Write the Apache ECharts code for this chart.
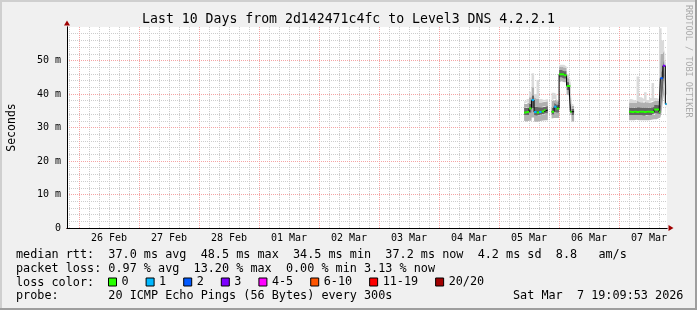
<!DOCTYPE html>
<html><head><meta charset="utf-8">
<script src="https://cdn.jsdelivr.net/npm/echarts@6/dist/echarts.min.js"></script>
<style>html,body{margin:0;padding:0;background:#f0f0f0}#c{width:697px;height:310px}</style>
</head><body><div id="c"></div>
<script>
// ---------- data ----------
const YEAR = 2026;
const rangeStart = '02-25 19:10';
const rangeEnd = '03-07 19:10';
const dayTicks = ['02-26','02-27','02-28','03-01','03-02','03-03','03-04','03-05','03-06','03-07'];
const xTickLabels = ['26 Feb','27 Feb','28 Feb','01 Mar','02 Mar','03 Mar','04 Mar','05 Mar','06 Mar','07 Mar'];
const yTickLabels = ['0','10 m','20 m','30 m','40 m','50 m'];
const lossLabels = ['0','1','2','3','4-5','6-10','11-19','20/20'];
const lossColors = ['#26ff00','#00b8ff','#0059ff','#7e00ff','#ff00ff','#ff5500','#ff0000','#a10000'];

const times = [
  '03-05 10:00','03-05 11:00','03-05 12:00','03-05 13:00','03-05 14:00','03-05 15:00','03-05 16:00','03-05 17:00','03-05 18:00','03-05 18:30',
  '03-05 19:30',
  '03-05 21:00','03-05 22:00','03-05 23:00','03-06 00:00','03-06 01:00','03-06 02:00','03-06 03:00','03-06 04:00','03-06 04:30','03-06 05:00',
  '03-06 06:00',
  '03-07 04:00','03-07 05:00','03-07 06:00','03-07 07:00','03-07 08:00','03-07 09:00','03-07 10:00','03-07 11:00','03-07 12:00','03-07 13:00','03-07 14:00','03-07 15:00','03-07 16:00',
  '03-07 16:30','03-07 17:00','03-07 17:30','03-07 18:00','03-07 18:30','03-07 19:00'
];
const median = [
  34.5, 34.6, 35.7, 38.2, 34.6, 34.5, 34.6, 34.8, 35.2, 35.2,
  null,
  34.7, 36.2, 35.7, 45.9, 45.9, 45.6, 42.4, 42.4, 34.7, 34.7,
  null,
  34.7, 34.6, 34.7, 34.6, 34.7, 34.7, 34.6, 34.7, 34.7, 34.6, 35.4, 35.4, 34.7,
  44.7, 44.7, 48.4, 48.4, 37.0, 37.0
];
const lossLevel = [
  0, 0, 0, 1, 1, 0, 1, 0, 0, 0,
  null,
  0, 1, 0, 0, 0, 0, 0, 0, 0, 0,
  null,
  0, 0, 0, 0, 0, 0, 0, 0, 0, 0, 0, 0, 0,
  2, 2, 3, 3, 1, 1
];
const smokeMin = [
  32.0, 31.8, 32.0, 33.0, 31.8, 31.7, 31.8, 32.0, 32.2, 32.2,
  null,
  32.7, 32.8, 32.8, 43.5, 43.8, 43.5, 39.8, 39.5, 31.8, 31.8,
  null,
  32.2, 32.2, 32.2, 32.3, 32.2, 32.2, 32.2, 32.2, 32.2, 32.3, 32.5, 32.5, 33.0,
  34.5, 38.0, 40.0, 36.0, 32.5, 32.5
];
const smokeLow = [
  33.7, 33.7, 34.4, 35.8, 33.7, 33.6, 33.7, 33.9, 34.2, 34.2,
  null,
  33.9, 34.8, 34.5, 44.9, 44.9, 44.6, 41.2, 41.2, 33.7, 33.7,
  null,
  33.7, 33.7, 33.7, 33.7, 33.7, 33.7, 33.6, 33.7, 33.7, 33.7, 34.2, 34.2, 34.0,
  38.5, 41.5, 45.5, 41.0, 35.3, 35.3
];
const smokeHigh = [
  35.8, 36.0, 37.2, 39.6, 36.2, 36.2, 36.0, 36.1, 36.4, 36.4,
  null,
  35.9, 37.3, 36.8, 47.2, 47.2, 46.8, 43.6, 43.4, 35.6, 35.6,
  null,
  36.0, 35.9, 36.0, 36.1, 36.0, 36.0, 36.0, 35.9, 36.0, 36.1, 36.7, 36.7, 36.6,
  46.5, 47.5, 50.5, 49.5, 39.5, 39.5
];
const smokeUpper = [
  37.0, 37.5, 39.0, 42.0, 39.0, 38.5, 37.5, 37.6, 37.8, 37.8,
  null,
  38.0, 38.5, 37.8, 48.2, 48.2, 47.8, 44.8, 44.5, 36.5, 36.5,
  null,
  37.5, 37.3, 37.3, 38.0, 37.6, 37.4, 37.8, 37.4, 37.5, 37.8, 38.0, 38.0, 40.0,
  52.0, 52.0, 53.5, 52.0, 41.0, 41.0
];
const smokeMax = [
  37.8, 38.5, 40.7, 46.2, 40.0, 44.2, 38.5, 38.2, 38.5, 38.5,
  null,
  40.4, 40.0, 38.0, 48.7, 48.7, 48.2, 45.8, 45.5, 37.0, 37.0,
  null,
  38.5, 38.2, 38.0, 45.2, 39.0, 38.5, 40.5, 38.2, 38.8, 43.3, 38.8, 38.5, 59.6,
  59.6, 56.0, 56.0, 54.0, 42.0, 42.0
];

const titleText = 'Last 10 Days from 2d142471c4fc to Level3 DNS 4.2.2.1';
const legendLines = [
  'median rtt:  37.0 ms avg  48.5 ms max  34.5 ms min  37.2 ms now  4.2 ms sd  8.8   am/s',
  'packet loss: 0.97 % avg  13.20 % max  0.00 % min 3.13 % now',
  'loss color:',
  'probe:       20 ICMP Echo Pings (56 Bytes) every 300s'
];
const stampText = 'Sat Mar  7 19:09:53 2026';
const watermark = 'RRDTOOL / TOBI OETIKER';

// ---------- helpers ----------
function toTime(s) {
  const [md, hm] = s.split(' ');
  const [mo, d] = md.split('-').map(Number);
  const [h, m] = (hm || '00:00').split(':').map(Number);
  return new Date(YEAR, mo - 1, d, h, m).getTime();
}
const T = times.map(toTime);
const tMin = toTime(rangeStart), tMax = toTime(rangeEnd);
const HOUR = 3600 * 1000, DAY = 24 * HOUR;
const dayLabelMap = {};
dayTicks.forEach((d, i) => { dayLabelMap[toTime(d + ' 00:00')] = xTickLabels[i]; });
function noonLabel(v) {
  const d = new Date(v);
  if (d.getHours() !== 12 || d.getMinutes() !== 0) return '';
  const mid = new Date(d.getFullYear(), d.getMonth(), d.getDate()).getTime();
  return dayLabelMap[mid] || '';
}
const diff = (a, b) => a.map((v, i) => (v == null || b[i] == null) ? null : +(v - b[i]).toFixed(3));
const pairs = arr => arr.map((v, i) => [T[i], v]);

const MONO = 'DejaVu Sans Mono';
const smokeBands = [
  { data: smokeMin, color: null },
  { data: diff(smokeLow, smokeMin), color: '#b2b2b2' },
  { data: diff(smokeHigh, smokeLow), color: '#666666' },
  { data: diff(smokeUpper, smokeHigh), color: '#b0b0b0' },
  { data: diff(smokeMax, smokeUpper), color: '#dadada' }
];

const series = [];
smokeBands.forEach((b, i) => {
  series.push({
    name: 'smoke' + i, type: 'line', stack: 'smoke', step: 'end',
    data: pairs(b.data), showSymbol: false, silent: true, z: 5,
    lineStyle: { width: 0, opacity: 0 },
    areaStyle: b.color ? { color: b.color, opacity: 1 } : { opacity: 0 },
    animation: false
  });
});
series.push({
  name: 'median', type: 'line', step: 'end', data: pairs(median), showSymbol: false,
  silent: true, z: 6, lineStyle: { color: '#000', width: 1 }, itemStyle: { color: '#000' }, animation: false
});
lossLabels.forEach((lab, lv) => {
  const out = [];
  for (let k = 0; k < T.length - 1; k++) {
    if (lossLevel[k] === lv && median[k] != null && median[k + 1] != null) {
      out.push([T[k], median[k]], [T[k + 1], median[k]], [T[k + 1], null]);
    }
  }
  series.push({
    name: lab, type: 'line', data: out, showSymbol: false, silent: true, z: 7,
    color: lossColors[lv], lineStyle: { color: lossColors[lv], width: 2 },
    itemStyle: { color: lossColors[lv] }, animation: false
  });
});

const textBase = { fontFamily: MONO, fontSize: 11.8, fill: '#000' };
const graphic = [
  { type: 'text', x: 348.5, y: 19.5, style: { text: titleText, fontFamily: MONO, fontSize: 13.2, fill: '#000', textAlign: 'center', textVerticalAlign: 'middle' } },
  { type: 'text', x: 16, y: 254.5, style: Object.assign({ text: legendLines[0], textVerticalAlign: 'middle' }, textBase) },
  { type: 'text', x: 16, y: 268.5, style: Object.assign({ text: legendLines[1], textVerticalAlign: 'middle' }, textBase) },
  { type: 'text', x: 16, y: 282.5, style: Object.assign({ text: legendLines[2], textVerticalAlign: 'middle' }, textBase) },
  { type: 'text', x: 16, y: 296.3, style: Object.assign({ text: legendLines[3], textVerticalAlign: 'middle' }, textBase) },
  { type: 'text', x: 513, y: 296.3, style: Object.assign({ text: stampText, textVerticalAlign: 'middle' }, textBase) },
  { type: 'text', x: 688, y: 5, rotation: -Math.PI / 2, style: { text: watermark, fontFamily: MONO, fontSize: 8.5, fill: '#aaaaaa', textAlign: 'left', textVerticalAlign: 'middle' } },
  { type: 'rect', shape: { x: 0, y: 0, width: 697, height: 2 }, style: { fill: '#cfcfcf' }, silent: true },
  { type: 'rect', shape: { x: 0, y: 0, width: 2, height: 310 }, style: { fill: '#cfcfcf' }, silent: true },
  { type: 'rect', shape: { x: 695, y: 0, width: 2, height: 310 }, style: { fill: '#9e9e9e' }, silent: true },
  { type: 'rect', shape: { x: 0, y: 308, width: 697, height: 2 }, style: { fill: '#9e9e9e' }, silent: true }
];

const redGrid = { color: '#f4a4a4', width: 1, type: [1, 1] };
const grayGrid = { color: '#cdcdcd', width: 1, type: [1, 1] };

const option = {
  backgroundColor: '#f0f0f0',
  animation: false,
  grid: { left: 67, right: 30, top: 27, bottom: 82, show: true, backgroundColor: '#ffffff', borderWidth: 0, outerBoundsMode: 'none', containLabel: false },
  legend: {
    data: lossLabels, left: 108, top: 276, padding: 0, itemGap: 17, itemWidth: 8, itemHeight: 8,
    icon: 'rect', selectedMode: false,
    textStyle: { fontFamily: MONO, fontSize: 11.8, color: '#000' },
    itemStyle: { borderColor: '#000', borderWidth: 1 }
  },
  xAxis: [
    {
      type: 'time', min: tMin, max: tMax, minInterval: DAY, maxInterval: DAY, position: 'bottom', z: 3,
      axisLine: { show: true, onZero: false, lineStyle: { color: '#000', width: 1 } },
      axisTick: { show: false }, axisLabel: { show: false },
      splitLine: { show: true, showMinLine: false, showMaxLine: false, lineStyle: redGrid }
    },
    {
      type: 'time', min: tMin, max: tMax, minInterval: 6 * HOUR, maxInterval: 6 * HOUR, position: 'bottom', z: 1,
      axisLine: { show: false }, axisTick: { show: false },
      axisLabel: { show: true, formatter: noonLabel, margin: 5, fontFamily: MONO, fontSize: 10, color: '#000', showMinLabel: false, showMaxLabel: false, hideOverlap: false },
      splitLine: { show: true, showMinLine: false, showMaxLine: false, lineStyle: grayGrid }
    },
    {
      type: 'time', min: tMin, max: tMax, position: 'bottom', z: 2,
      axisLine: { show: true, onZero: false, symbol: ['none', 'triangle'], symbolSize: [6, 5], symbolOffset: [0, 4], lineStyle: { color: '#a00000', width: 1 } },
      axisTick: { show: false }, axisLabel: { show: false }, splitLine: { show: false }
    }
  ],
  yAxis: [
    {
      type: 'value', min: 0, max: 60, interval: 10, position: 'left', z: 3,
      name: 'Seconds', nameLocation: 'middle', nameGap: 49,
      nameTextStyle: { fontFamily: MONO, fontSize: 11.5, color: '#000' },
      axisLine: { show: true, onZero: false, lineStyle: { color: '#000', width: 1 } },
      axisTick: { show: false },
      axisLabel: { formatter: v => yTickLabels[Math.round(v / 10)] !== undefined && v % 10 === 0 ? yTickLabels[Math.round(v / 10)] : '', margin: 6, fontFamily: MONO, fontSize: 10, color: '#000' },
      splitLine: { show: true, showMinLine: false, showMaxLine: false, lineStyle: redGrid },
      minorTick: { show: true, splitNumber: 5, length: 0, lineStyle: { width: 0, opacity: 0 } },
      minorSplitLine: { show: true, lineStyle: grayGrid }
    },
    {
      type: 'value', min: 0, max: 60, position: 'left', z: 2,
      axisLine: { show: true, onZero: false, symbol: ['none', 'triangle'], symbolSize: [6, 5], symbolOffset: [0, 4], lineStyle: { color: '#a00000', width: 1 } },
      axisTick: { show: false }, axisLabel: { show: false }, splitLine: { show: false }
    }
  ],
  series: series,
  graphic: graphic
};
const chart = echarts.init(document.getElementById('c'), null, { renderer: 'canvas' });
chart.setOption(option);
</script>
</body></html>
